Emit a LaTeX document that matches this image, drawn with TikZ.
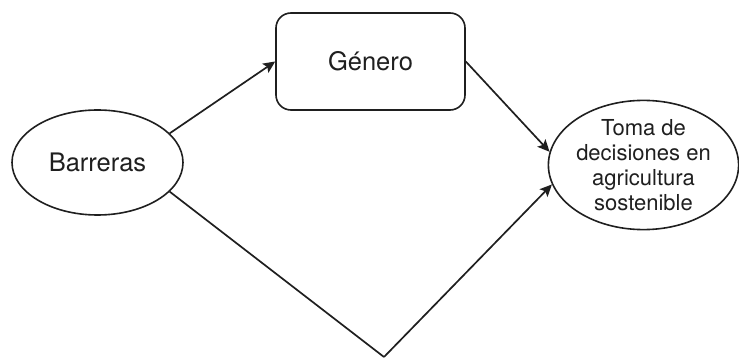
\documentclass[tikz,border=0pt]{standalone}
\usepackage{fontspec}
\setmainfont{TeX Gyre Heros}
\usetikzlibrary{shapes.geometric,arrows.meta}
\begin{document}
\begin{tikzpicture}[x=1pt,y=-1pt,
  shp/.style={draw=black!88, line width=1.6pt, fill=white, inner sep=0pt, text=black!88},
  oval/.style={shp, ellipse},
  rbox/.style={shp, rectangle, rounded corners=15pt},
  conn/.style={line width=1.7pt, draw=black!88, -{Stealth[length=12pt,width=11pt,inset=2.5pt]}},
  plain/.style={line width=1.7pt, draw=black!88},
  lbl/.style={font=\fontsize{25.5}{28}\selectfont},
]
\useasboundingbox (0,0) rectangle (739,358);
\node[oval, minimum width=171pt, minimum height=105pt, lbl] (bar) at (97.5,162.5) {Barreras};
\node[rbox, minimum width=189pt, minimum height=97pt, lbl] (gen) at (370.5,61.5) {Género};
\node[oval, minimum width=187pt, minimum height=124pt, align=center, font=\fontsize{22}{25}\selectfont] (toma) at (643.5,165) {Toma de\\decisiones en\\agricultura\\sostenible};
\coordinate (low) at (384,357);
\draw[conn] (bar.22) -- (gen.west);
\draw[conn] (gen.east) -- (toma.172);
\draw[plain] (bar.-22) -- (low);
\draw[conn] (low) -- (toma.192);
\end{tikzpicture}
\end{document}
